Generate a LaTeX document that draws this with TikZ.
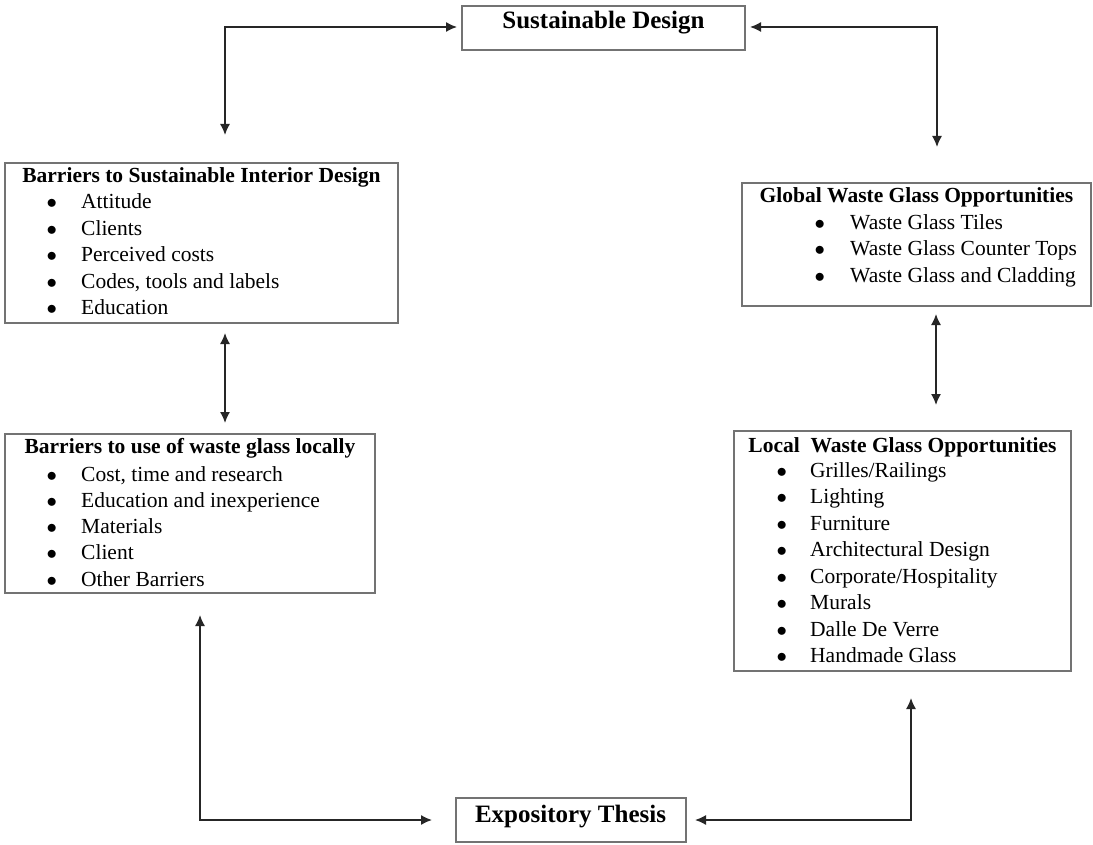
\documentclass[tikz,border=0pt]{standalone}
\usepackage{fontspec}
\setmainfont{Liberation Serif}
\usetikzlibrary{arrows.meta}
\newcommand{\blt}[1]{\makebox[#1][l]{\hspace{-1.5pt}$\bullet$}}
\begin{document}
\begin{tikzpicture}[x=1pt,y=-1pt,
  box/.style={draw=black!55, line width=1.5pt, inner sep=0pt, outer sep=0pt, anchor=north west},
  ttl/.style={font=\bfseries\fontsize{21.5}{26}\selectfont, anchor=base, inner sep=0pt},
  big/.style={font=\bfseries\fontsize{25}{30}\selectfont, anchor=base, inner sep=0pt},
  itm/.style={font=\fontsize{21.5}{26}\selectfont, anchor=base west, inner sep=0pt},
  con/.style={draw=black!85, line width=1.5pt, {Latex[length=11pt,width=10pt]}-{Latex[length=11pt,width=10pt]}}]
\useasboundingbox[fill=white] (0,0) rectangle (1093,845);

% boxes
\node[box, minimum width=283pt, minimum height=44pt]  (sd)   at (462,6)   {};
\node[box, minimum width=393pt, minimum height=160pt] (b1)   at (5,163)   {};
\node[box, minimum width=370pt, minimum height=159pt] (b2)   at (5,434)   {};
\node[box, minimum width=349pt, minimum height=123pt] (glob) at (742,183) {};
\node[box, minimum width=337pt, minimum height=240pt] (loc)  at (734,431) {};
\node[box, minimum width=230pt, minimum height=44pt]  (et)   at (456,798) {};

% titles
\node[big] (sdt) at (603.5,29) {Sustainable Design};
\node[big] (ett) at (570.5,822) {Expository Thesis};
\node[ttl] (b1t) at (201.5,183) {Barriers to Sustainable Interior Design};
\node[ttl] (b2t) at (190,453) {Barriers to use of waste glass locally};
\node[ttl] (globt) at (916.5,203) {Global Waste Glass Opportunities};
\node[ttl] (loct) at (902.5,452) {Local~~Waste Glass Opportunities};

% items
\foreach \t [count=\i from 0] in {Attitude, Clients, Perceived costs, {Codes, tools and labels}, Education}
  \node[itm] (b1-\i) at (48,{209+26.4*\i}) {\blt{33pt}\t};
\foreach \t [count=\i from 0] in {{Cost, time and research}, Education and inexperience, Materials, Client, Other Barriers}
  \node[itm] (b2-\i) at (48,{481+26.25*\i}) {\blt{33pt}\t};
\foreach \t [count=\i from 0] in {Waste Glass Tiles, Waste Glass Counter Tops, Waste Glass and Cladding}
  \node[itm] (glob-\i) at (816,{229.5+26.5*\i}) {\blt{34pt}\t};
\foreach \t [count=\i from 0] in {Grilles/Railings, Lighting, Furniture, Architectural Design, Corporate/Hospitality, Murals, Dalle De Verre, Handmade Glass}
  \node[itm] (loc-\i) at (778,{477+26.57*\i}) {\blt{32pt}\t};

% connectors
\draw[con, shorten <=28pt, shorten >=5pt] ([xshift=23.5pt]b1.north) |- ([yshift=1pt]sd.west);
\draw[con, shorten <=5pt, shorten >=36pt] ([yshift=1pt]sd.east) -| ([xshift=20.5pt]glob.north);
\draw[con, shorten <=10pt, shorten >=11pt] ([xshift=23.5pt]b1.south) -- ([xshift=35pt]b2.north);
\draw[con, shorten <=8pt, shorten >=26pt] ([xshift=19.5pt]glob.south) -- ([xshift=33.5pt]loc.north);
\draw[con, shorten <=22pt, shorten >=24pt] ([xshift=10pt]b2.south) |- (et.west);
\draw[con, shorten <=27pt, shorten >=9pt] ([xshift=8.5pt]loc.south) |- (et.east);
\end{tikzpicture}
\end{document}
